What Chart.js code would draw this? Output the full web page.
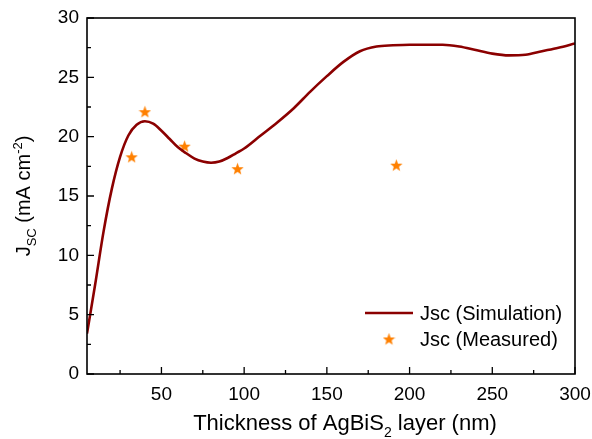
<!DOCTYPE html>
<html>
<head>
<meta charset="utf-8">
<script src="https://cdn.jsdelivr.net/npm/chart.js@4.4.0/dist/chart.umd.min.js"></script>
<style>
  html, body { margin: 0; padding: 0; background: #fff; }
  #jscChart { display: block; }
</style>
</head>
<body>
<canvas id="jscChart" width="592" height="439"></canvas>
<script>
// simulated short-circuit current vs absorber thickness
const simThickness = [5, 10, 15, 20, 25, 30, 35, 40, 45, 50, 55, 60, 65, 70, 75, 80, 85, 90, 95, 100,
  110, 120, 130, 140, 150, 160, 170, 180, 190, 200, 210, 220, 230, 240, 250, 260, 270, 280, 290, 300];
const simJsc = [3.4, 7.6, 12.0, 15.6, 18.3, 20.1, 21.0, 21.3, 21.1, 20.5, 19.8, 19.1, 18.6, 18.15, 17.9, 17.8, 17.9, 18.2, 18.6, 19.0,
  20.1, 21.2, 22.4, 23.8, 25.1, 26.3, 27.2, 27.6, 27.7, 27.75, 27.75, 27.75, 27.6, 27.3, 27.0, 26.85, 26.9, 27.2, 27.5, 27.85];

// measured devices
const measThickness = [32, 40, 64, 96, 192];
const measJsc = [18.3, 22.1, 19.2, 17.3, 17.6];

const xTicks = [50, 100, 150, 200, 250, 300];
const xMinorTicks = [25, 75, 125, 175, 225, 275];
const yTicks = [0, 5, 10, 15, 20, 25, 30];
const yMinorTicks = [2.5, 7.5, 12.5, 17.5, 22.5, 27.5];

const FONT = '"Liberation Sans", Arial, sans-serif';
const LINE_COLOR = '#8b0000';
const STAR_COLOR = '#ff8000';

// filled five-point star used as point marker
function makeStar(size, color) {
  const c = document.createElement('canvas');
  c.width = size; c.height = size;
  const g = c.getContext('2d');
  const cx = size / 2, cy = size / 2 + 0.6;
  const R = size / 2, r = R * 0.42;
  g.beginPath();
  for (let i = 0; i < 10; i++) {
    const rad = i % 2 === 0 ? R : r;
    const a = -Math.PI / 2 + i * Math.PI / 5;
    const px = cx + rad * Math.cos(a), py = cy + rad * Math.sin(a);
    if (i === 0) g.moveTo(px, py); else g.lineTo(px, py);
  }
  g.closePath();
  g.fillStyle = color;
  g.fill();
  return c;
}
const starImg = makeStar(13, STAR_COLOR);

// draws a run of text pieces with sub/superscripts, centred on x
function drawRich(ctx, parts, x, y, size) {
  const small = Math.round(size * 0.65);
  const widths = parts.map(p => {
    ctx.font = (p.s ? small : size) + 'px ' + FONT;
    return ctx.measureText(p.t).width;
  });
  let cur = x - widths.reduce((a, b) => a + b, 0) / 2;
  ctx.textAlign = 'left';
  ctx.textBaseline = 'alphabetic';
  parts.forEach((p, i) => {
    ctx.font = (p.s ? small : size) + 'px ' + FONT;
    const dy = p.s === 'sub' ? size * 0.3 : p.s === 'sup' ? -size * 0.42 : 0;
    ctx.fillText(p.t, cur, y + dy);
    cur += widths[i];
  });
}

const framePlugin = {
  id: 'frame',
  afterDatasetsDraw(chart) {
    const { ctx, chartArea: a, scales: { x, y } } = chart;
    ctx.save();
    ctx.strokeStyle = '#000';
    ctx.lineWidth = 1.6;
    ctx.strokeRect(a.left, a.top, a.right - a.left, a.bottom - a.top);
    ctx.lineWidth = 1.3;
    ctx.beginPath();
    xTicks.forEach(v => { const px = x.getPixelForValue(v); ctx.moveTo(px, a.bottom); ctx.lineTo(px, a.bottom - 7); });
    xMinorTicks.forEach(v => { const px = x.getPixelForValue(v); ctx.moveTo(px, a.bottom); ctx.lineTo(px, a.bottom - 4); });
    yTicks.forEach(v => { const py = y.getPixelForValue(v); ctx.moveTo(a.left, py); ctx.lineTo(a.left + 7, py); });
    yMinorTicks.forEach(v => { const py = y.getPixelForValue(v); ctx.moveTo(a.left, py); ctx.lineTo(a.left + 4, py); });
    ctx.stroke();

    // axis titles
    ctx.fillStyle = '#000';
    drawRich(ctx, [{ t: 'Thickness of AgBiS' }, { t: '2', s: 'sub' }, { t: ' layer (nm)' }],
      (a.left + a.right) / 2 + 14, 430, 22);
    ctx.translate(30, (a.top + a.bottom) / 2);
    ctx.rotate(-Math.PI / 2);
    drawRich(ctx, [{ t: 'J' }, { t: 'SC', s: 'sub' }, { t: ' (mA cm' }, { t: '-2', s: 'sup' }, { t: ')' }], 0, 0, 20);
    ctx.restore();

    // legend inside the plot
    ctx.save();
    const ds = chart.data.datasets;
    ctx.font = '20px ' + FONT;
    ctx.textBaseline = 'middle';
    ctx.fillStyle = '#000';
    ctx.strokeStyle = ds[0].borderColor;
    ctx.lineWidth = ds[0].borderWidth;
    ctx.beginPath();
    ctx.moveTo(365, 313); ctx.lineTo(413, 313);
    ctx.stroke();
    ctx.fillText(ds[0].label, 420, 314);
    ctx.drawImage(starImg, 389 - 6.5, 339 - 6.5);
    ctx.fillText(ds[1].label, 420, 340);
    ctx.restore();
  }
};

new Chart(document.getElementById('jscChart'), {
  type: 'line',
  data: {
    datasets: [{
      label: 'Jsc (Simulation)',
      data: simThickness.map((t, i) => ({ x: t, y: simJsc[i] })),
      borderColor: LINE_COLOR,
      borderWidth: 2.6,
      pointRadius: 0,
      cubicInterpolationMode: 'monotone',
      fill: false
    }, {
      label: 'Jsc (Measured)',
      data: measThickness.map((t, i) => ({ x: t, y: measJsc[i] })),
      showLine: false,
      pointStyle: starImg,
      pointRadius: 6,
      borderColor: STAR_COLOR,
      backgroundColor: STAR_COLOR
    }]
  },
  options: {
    responsive: false,
    animation: false,
    events: [],
    layout: { padding: { top: 18, right: 17, left: 0, bottom: 0 } },
    plugins: { legend: { display: false }, tooltip: { enabled: false } },
    scales: {
      x: {
        type: 'linear',
        min: 5,
        max: 300,
        grid: { display: false, drawTicks: false },
        border: { display: false },
        afterBuildTicks: s => { s.ticks = xTicks.map(v => ({ value: v })); },
        afterFit: s => { s.height = 65; s.paddingLeft = 0; s.paddingRight = 0; },
        ticks: { color: '#000', padding: 9, maxRotation: 0, font: { family: FONT, size: 19 } }
      },
      y: {
        min: 0,
        max: 30,
        grid: { display: false, drawTicks: false },
        border: { display: false },
        afterBuildTicks: s => { s.ticks = yTicks.map(v => ({ value: v })); },
        afterFit: s => { s.width = 87; s.paddingTop = 0; s.paddingBottom = 0; },
        ticks: { color: '#000', padding: 8, font: { family: FONT, size: 19 } }
      }
    }
  },
  plugins: [framePlugin]
});
</script>
</body>
</html>
